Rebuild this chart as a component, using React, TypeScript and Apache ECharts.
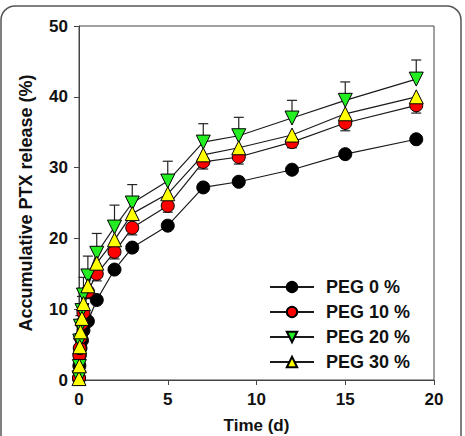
import React, { useEffect, useRef } from "react";
import * as echarts from "echarts";

const times = [0, 0.021, 0.042, 0.083, 0.167, 0.25, 0.5, 1, 2, 3, 5, 7, 9, 12, 15, 19];
const peg0 = [0.2, 2.0, 3.5, 4.5, 5.6, 7.0, 8.3, 11.3, 15.6, 18.7, 21.8, 27.2, 28.0, 29.7, 31.9, 34.0];
const peg10 = [0.3, 3.5, 4.5, 6.0, 8.0, 9.5, 12.5, 15.0, 18.1, 21.5, 24.6, 30.8, 31.5, 33.6, 36.3, 38.8];
const peg20 = [0.3, 1.9, 5.5, 7.6, 9.8, 12.0, 14.7, 17.9, 21.6, 25.0, 28.1, 33.6, 34.5, 37.0, 39.5, 42.5];
const peg30 = [0.2, 2.0, 4.7, 6.8, 8.7, 10.8, 13.3, 16.5, 19.8, 23.5, 26.3, 31.8, 32.8, 34.6, 37.6, 40.0];
const peg10ErrDown = [0, 0.3, 0.5, 0.6, 0.8, 0.8, 1.0, 1.0, 1.0, 1.0, 0.9, 1.0, 1.0, 0.8, 1.1, 1.1];
const peg20ErrUp = [0, 0.5, 1.0, 1.5, 2.0, 2.5, 2.8, 2.8, 3.1, 2.6, 2.8, 2.6, 2.6, 2.5, 2.6, 2.7];
const seriesNames = ["PEG 0 %", "PEG 10 %", "PEG 20 %", "PEG 30 %"];
const xTicks = { min: 0, max: 20, interval: 5 };
const yTicks = { min: 0, max: 50, interval: 10 };

const FONT = "'Liberation Sans', Arial, sans-serif";
const DOWN_TRI = "path://M0,0 L10,0 L5,9 Z";
const UP_TRI = "path://M5,0 L10,9 L0,9 Z";

function errSeries(values: number[], errs: number[], dir: number) {
  return {
    type: "custom",
    z: 1,
    silent: true,
    clip: false,
    data: times.map((t, i) => [t, values[i], errs[i]]),
    renderItem: (params: any, api: any) => {
      const t = api.value(0);
      const v = api.value(1);
      const e = api.value(2);
      if (!e) return { type: "group", children: [] };
      const p0 = api.coord([t, v]);
      const p1 = api.coord([t, v + dir * e]);
      const style = { stroke: "#222", lineWidth: 1.2 };
      return {
        type: "group",
        children: [
          { type: "line", shape: { x1: p0[0], y1: p0[1], x2: p1[0], y2: p1[1] }, style },
          { type: "line", shape: { x1: p1[0] - 5, y1: p1[1], x2: p1[0] + 5, y2: p1[1] }, style },
        ],
      };
    },
  };
}

function lineSeries(name: string, values: number[], symbol: string, size: number, color: string) {
  return {
    name,
    type: "line",
    z: 2,
    clip: false,
    data: times.map((t, i) => [t, values[i]]),
    symbol,
    symbolSize: size,
    showAllSymbol: true,
    lineStyle: { color: "#1a1a1a", width: 1.2 },
    itemStyle: { color, borderColor: "#000", borderWidth: 1 },
  };
}

export default function App() {
  const ref = useRef<HTMLDivElement>(null);
  useEffect(() => {
    if (!ref.current) return;
    const chart = echarts.init(ref.current, null, { renderer: "svg" });
    chart.setOption({
      animation: false,
      backgroundColor: "#fff",
      grid: {
        left: 79, top: 26, right: 31, bottom: 56,
        containLabel: false, outerBoundsMode: "none",
        show: true, borderColor: "#444", borderWidth: 1,
      },
      xAxis: {
        type: "value",
        ...xTicks,
        name: "Time (d)",
        nameLocation: "middle",
        nameGap: 37,
        nameTextStyle: { fontFamily: FONT, fontWeight: "bold", fontSize: 17, color: "#111" },
        axisLine: { show: true, lineStyle: { color: "#444", width: 1 } },
        axisTick: { show: true, length: 5, inside: false, lineStyle: { color: "#444" } },
        axisLabel: { fontFamily: FONT, fontWeight: "bold", fontSize: 17, color: "#111", margin: 11 },
        splitLine: { show: false },
      },
      yAxis: {
        type: "value",
        ...yTicks,
        name: "Accumulative PTX release (%)",
        nameLocation: "middle",
        nameGap: 44,
        nameTextStyle: { fontFamily: FONT, fontWeight: "bold", fontSize: 18, color: "#111" },
        axisLine: { show: true, lineStyle: { color: "#444", width: 1 } },
        axisTick: { show: true, length: 5, inside: false, lineStyle: { color: "#444" } },
        axisLabel: { fontFamily: FONT, fontWeight: "bold", fontSize: 17, color: "#111", margin: 11 },
        splitLine: { show: false },
      },
      legend: {
        data: seriesNames,
        orient: "vertical",
        left: 269,
        top: 278,
        padding: 0,
        itemWidth: 44,
        itemHeight: 13,
        itemGap: 7,
        textStyle: { fontFamily: FONT, fontWeight: "bold", fontSize: 18, color: "#111", lineHeight: 16, padding: [0, 0, 0, 7] },
      },
      graphic: [
        {
          type: "rect",
          shape: { x: 1, y: 6, width: 460, height: 450, r: 14 },
          style: { fill: "none", stroke: "#555", lineWidth: 1.5 },
          silent: true,
        },
      ],
      series: [
        errSeries(peg10, peg10ErrDown, -1),
        errSeries(peg20, peg20ErrUp, 1),
        lineSeries(seriesNames[0], peg0, "circle", 13, "#000000"),
        lineSeries(seriesNames[1], peg10, "circle", 13, "#ff0000"),
        lineSeries(seriesNames[2], peg20, DOWN_TRI, 14, "#22ee22"),
        lineSeries(seriesNames[3], peg30, UP_TRI, 14, "#ffff00"),
      ],
    });
    return () => chart.dispose();
  }, []);
  return (
    <div
      ref={ref}
      style={{ position: "fixed", left: 0, top: 0, width: 465, height: 436 }}
    />
  );
}
